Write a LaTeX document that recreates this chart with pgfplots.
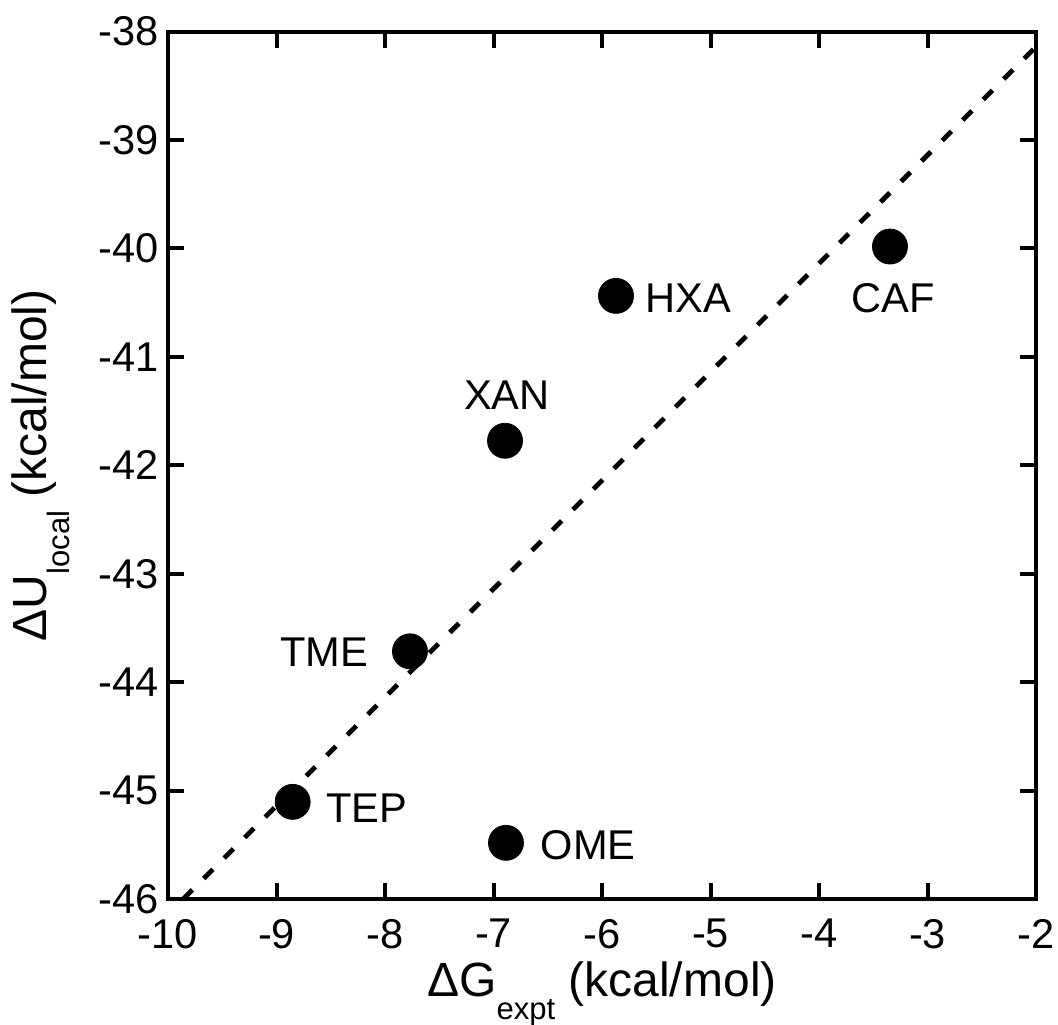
\documentclass[border=0pt]{standalone}
\usepackage{fontspec}
\setmainfont{Liberation Sans}
\usepackage{pgfplots}
\pgfplotsset{compat=1.18}

\begin{document}
\begin{tikzpicture}
\useasboundingbox (-84pt,-62.5pt) rectangle (445pt,449.5pt);
\begin{axis}[
  scale only axis,
  width=434pt,
  height=433.75pt,
  xmin=-10, xmax=-2,
  ymin=-46, ymax=-38,
  xtick={-10,-9,...,-2},
  ytick={-46,-45,...,-38},
  tick align=inside,
  xtick pos=both,
  ytick pos=both,
  major tick length=8pt,
  every tick/.style={black, line width=2pt},
  axis line style={line width=2pt},
  /pgf/number format/assume math mode=true,
  tick label style={font=\fontsize{20.8pt}{20.8pt}\selectfont},
  xticklabel style={yshift=-6.5pt},
  yticklabel style={xshift=-1.1pt},
  xlabel={ΔG\raisebox{-11.5pt}{\fontsize{15.5pt}{15.5pt}\selectfont expt} (kcal/mol)},
  ylabel={ΔU\raisebox{-11.5pt}{\fontsize{15.5pt}{15.5pt}\selectfont local} (kcal/mol)},
  label style={font=\fontsize{24pt}{24pt}\selectfont},
  xlabel style={at={([yshift=-48.9pt]axis description cs:0.5,0)}, anchor=base},
  ylabel style={at={([xshift=-60.6pt]axis description cs:0,0.5)}, anchor=base},
  clip=false,
]
% fit line
\addplot[black, line width=2.4pt, dash pattern=on 6.5pt off 8pt]
  coordinates {(-9.86,-46) (-2,-38.14)};
% data points
\addplot[only marks, mark=*, mark size=8.75pt, mark options={fill=black, draw=black}]
  coordinates {
    (-5.871,-40.438) % HXA
    (-3.346,-39.983) % CAF
    (-6.894,-41.774) % XAN
    (-7.770,-43.716) % TME
    (-8.851,-45.104) % TEP
    (-6.885,-45.482) % OME
  };
\begin{scope}[every node/.style={font=\fontsize{20.8pt}{20.8pt}\selectfont, inner sep=0pt}]
\node at (axis cs:-5.207,-40.456) {HXA};
\node at (axis cs:-3.318,-40.459) {CAF};
\node at (axis cs:-6.876,-41.350) {XAN};
\node at (axis cs:-8.562,-43.726) {TME};
\node at (axis cs:-8.170,-45.166) {TEP};
\node at (axis cs:-6.126,-45.505) {OME};
\end{scope}
\end{axis}
\end{tikzpicture}
\end{document}
